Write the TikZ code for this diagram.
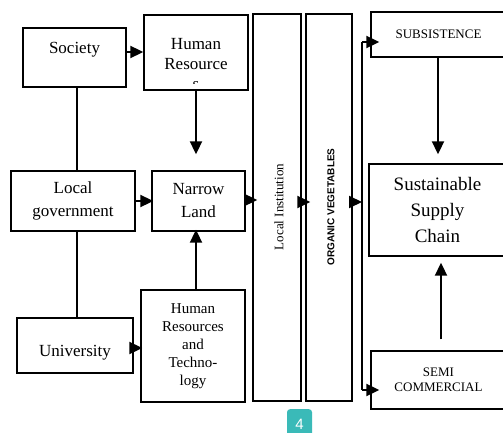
\documentclass[tikz,border=0pt]{standalone}
\usepackage{fontspec}
\setmainfont{Liberation Serif}
\newfontfamily\orgfont{Liberation Sans}
\usetikzlibrary{arrows.meta}
\definecolor{badgeteal}{RGB}{58,186,184}
\tikzset{
	blok/.style={draw, line width=1.4pt, inner sep=0pt, align=center, font=\fontsize{17}{23}\selectfont},
	strelka/.style={line width=2pt, -{Triangle[length=13pt,width=12pt]}},
	liniya/.style={line width=1.4pt}
}
\begin{document}
\begin{tikzpicture}[x=1pt, y=-1pt]
		\useasboundingbox ( 0, 0 ) rectangle ( 503, 433 );
		\clip ( 0, 0 ) rectangle ( 503, 433 );

		% левый столбец
		\node [blok, minimum width=103, minimum height=59, text depth=19pt] (society) at ( 74.5, 57.5 ) {Society};
		\node [blok, minimum width=124, minimum height=60] (localgov) at ( 73, 201 ) {Local\\government};
		\node [blok, minimum width=116, minimum height=55, text height=26pt] (univ) at ( 75, 345.5 ) {University};

		% средний столбец
		\node [blok, minimum width=104, minimum height=75] (hr) at ( 196, 52.5 ) {};
		\begin{scope}
			\clip ( 144, 15 ) rectangle ( 248, 84 );
			\node [align=center, inner sep=0pt, anchor=north, font=\fontsize{17}{20}\selectfont] (hrtext) at ( 196, 38.5 ) {Human\\Resource\\s};
		\end{scope}
		\node [blok, minimum width=93, minimum height=60] (narrow) at ( 198.5, 201 ) {Narrow\\Land};
		\node [blok, minimum width=104, minimum height=112, font=\fontsize{15}{18}\selectfont] (hrt) at ( 193, 346 ) {Human\\Resources\\and\\Techno-\\logy};

		% вертикальные блоки
		\node [blok, minimum width=48, minimum height=387] (locinst) at ( 277, 207.5 ) {};
		\node [rotate=90, inner sep=0pt, font=\fontsize{13}{13}\selectfont] (locinsttext) at ( 279, 207 ) {Local Institution};
		\node [blok, minimum width=46, minimum height=387] (organic) at ( 329, 207.5 ) {};
		\node [rotate=90, inner sep=0pt, font=\orgfont\bfseries\fontsize{10}{10}\selectfont] (organictext) at ( 331, 207 ) {ORGANIC VEGETABLES};

		% правый столбец
		\node [blok, minimum width=135, minimum height=45, font=\fontsize{13}{15}\selectfont] (subs) at ( 438.5, 34.5 ) {SUBSISTENCE};
		\node [blok, minimum width=137, minimum height=92, font=\fontsize{19}{26}\selectfont] (ssc) at ( 437.5, 210 ) {Sustainable\\Supply\\Chain};
		\node [blok, minimum width=135, minimum height=58, font=\fontsize{13}{15}\selectfont] (semi) at ( 438.5, 380 ) {SEMI\\COMMERCIAL};

		% шина
		\coordinate (bustop) at ( 362, 42 );
		\coordinate (busmid) at ( 362, 202 );
		\coordinate (busbot) at ( 362, 390 );
		\draw [liniya] (bustop) -- (busbot);

		% связи
		\draw [liniya] (society.south -| 77, 0) -- (localgov.north -| 77, 0);
		\draw [liniya] (localgov.south -| 77, 0) -- (univ.north -| 77, 0);
		\draw [strelka] (society.east |- 0, 52) -- (hr.west |- 0, 52);
		\draw [strelka, shorten >=16pt] (hr.south -| 196, 0) -- (narrow.north -| 196, 0);
		\draw [strelka, shorten >=-2pt] (localgov) -- (narrow);
		\draw [strelka, shorten >=-2pt] (univ.east |- 0, 348) -- (hrt.west |- 0, 348);
		\draw [strelka, shorten >=-2pt] (hrt.north -| 196, 0) -- (narrow.south -| 196, 0);
		\draw [strelka, shorten >=-5pt] (narrow.east |- 0, 200) -- (locinst.west |- 0, 200);
		\draw [strelka, shorten >=-5pt] (locinst.east |- busmid) -- (organic.west |- busmid);
		\draw [strelka] (organic.east |- busmid) -- (busmid);
		\draw [strelka, shorten >=-9pt] (bustop) -- (subs.west |- bustop);
		\draw [strelka, shorten >=-9pt] (busbot) -- (semi.west |- busbot);
		\draw [strelka, shorten >=9pt] (subs.south -| 438, 0) -- (ssc.north -| 438, 0);
		\draw [strelka, shorten <=11pt, shorten >=6pt] (semi.north -| 441, 0) -- (ssc.south -| 441, 0);

		% номер
		\node [fill=badgeteal, rounded corners=3pt, anchor=north, minimum width=25, minimum height=30, text=white, font=\orgfont\fontsize{15}{15}\selectfont] (badge) at ( 299.5, 409 ) {4};
\end{tikzpicture}
\end{document}
